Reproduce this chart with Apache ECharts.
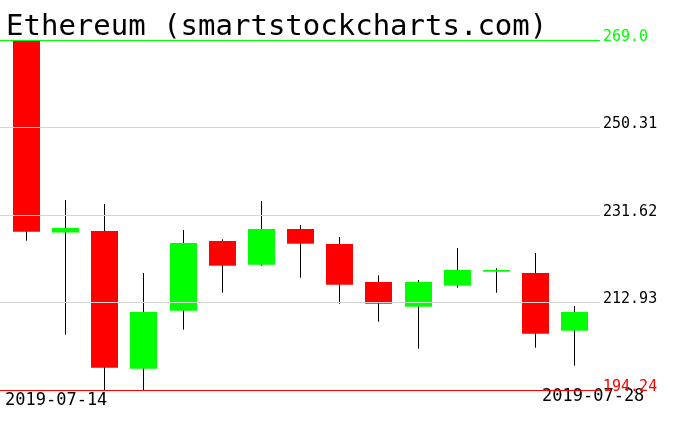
<!DOCTYPE html>
<html>
<head>
<meta charset="utf-8">
<script src="https://cdn.jsdelivr.net/npm/echarts@6/dist/echarts.min.js"></script>
<style>html,body{margin:0;padding:0;background:#fff}#c{width:676px;height:431px}</style>
</head>
<body>
<div id="c"></div>
<script>
var dates = ['2019-07-14','2019-07-15','2019-07-16','2019-07-17','2019-07-18','2019-07-19','2019-07-20','2019-07-21','2019-07-22','2019-07-23','2019-07-24','2019-07-25','2019-07-26','2019-07-27','2019-07-28'];
var opens  = [269.00, 227.88, 228.20, 198.79, 211.18, 226.07, 221.00, 228.63, 225.43, 217.31, 212.03, 216.52, 219.51, 219.23, 206.91];
var closes = [228.05, 228.84, 199.00, 210.90, 225.64, 220.79, 228.63, 225.49, 216.73, 212.67, 217.31, 219.87, 219.87, 206.27, 210.90];
var lows   = [226.13, 206.05, 194.24, 194.24, 207.12, 215.02, 220.79, 218.23, 212.67, 208.83, 203.06, 216.09, 215.02, 203.28, 199.43];
var highs  = [269.00, 234.82, 233.97, 219.23, 228.42, 226.43, 234.61, 229.48, 226.92, 218.74, 217.74, 224.57, 220.24, 223.50, 212.18];
var levels = [269.0, 250.31, 231.62, 212.93, 194.24];
var levelLabels = ['269.0', '250.31', '231.62', '212.93', '194.24'];
var title = 'Ethereum (smartstockcharts.com)';

var data = dates.map(function (d, i) { return [i, opens[i], closes[i], lows[i], highs[i]]; });
var yMin = levels[levels.length - 1], yMax = levels[0];

var levelColors = levels.map(function (v, i) {
  if (i === 0) return { line: '#00ff00', label: '#00ff00' };
  if (i === levels.length - 1) return { line: '#ff0000', label: '#ff0000' };
  return { line: '#d3d3d3', label: '#000000' };
});

var chart = echarts.init(document.getElementById('c'), null, { renderer: 'canvas' });
chart.setOption({
  animation: false,
  backgroundColor: '#ffffff',
  grid: { left: 0, right: 76, top: 40, bottom: 41 },
  xAxis: { type: 'value', min: -0.677, max: 14.645, show: false },
  yAxis: { type: 'value', min: yMin, max: yMax, show: false },
  graphic: [
    { type: 'text', left: 6, top: 13, style: { text: title, font: '29px "DejaVu Sans Mono"', fill: '#000' } },
    { type: 'text', x: 5, y: 392, style: { text: dates[0], font: '17px "DejaVu Sans Mono"', fill: '#000', verticalAlign: 'top' } },
    { type: 'text', x: 542, y: 388, style: { text: dates[dates.length - 1], font: '17px "DejaVu Sans Mono"', fill: '#000', verticalAlign: 'top' } }
  ],
  series: [{
    type: 'custom',
    data: data,
    encode: { x: 0, y: [1, 2, 3, 4] },
    renderItem: function (params, api) {
      var x = api.value(0), o = api.value(1), c = api.value(2), l = api.value(3), h = api.value(4);
      var pO = api.coord([x, o]), pC = api.coord([x, c]), pL = api.coord([x, l]), pH = api.coord([x, h]);
      var cx = Math.floor(pO[0]);
      var top = Math.min(pO[1], pC[1]);
      var hgt = Math.max(1.5, Math.abs(pO[1] - pC[1]));
      return {
        type: 'group',
        children: [
          { type: 'line', shape: { x1: cx + 0.5, y1: pH[1], x2: cx + 0.5, y2: pL[1] }, style: { stroke: '#000', lineWidth: 1 } },
          { type: 'rect', shape: { x: cx - 13, y: top, width: 27, height: hgt }, style: { fill: c >= o ? '#00ff00' : '#ff0000' } }
        ]
      };
    },
    markLine: {
      silent: true,
      symbol: ['none', 'none'],
      animation: false,
      data: levels.map(function (v, i) {
        return {
          yAxis: v,
          lineStyle: { color: levelColors[i].line, width: 1, type: 'solid' },
          label: {
            show: true, position: 'end', distance: 3,
            formatter: levelLabels[i],
            color: levelColors[i].label,
            fontFamily: 'DejaVu Sans Mono', fontSize: 15,
            verticalAlign: 'bottom', lineHeight: 6
          }
        };
      })
    }
  }]
});
</script>
</body>
</html>
